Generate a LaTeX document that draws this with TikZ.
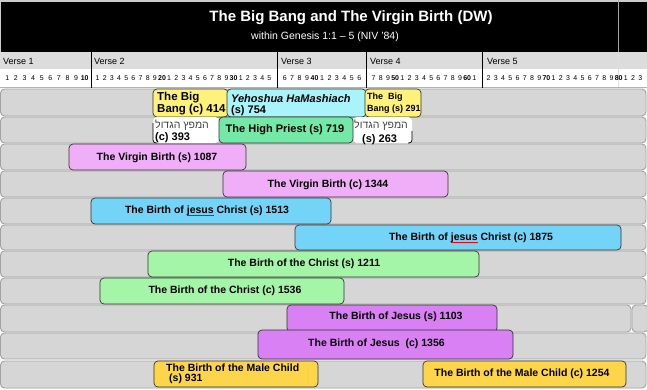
\documentclass[tikz,border=0pt]{standalone}
\usepackage{fontspec}
\setmainfont{Liberation Sans}
\newfontfamily\hebfont[Script=Hebrew]{Liberation Sans}
\TeXXeTstate=1
\definecolor{bargray}{HTML}{D6D6D6}
\definecolor{barline}{HTML}{A2A2A2}
\definecolor{versegray}{HTML}{DCDCDC}
\definecolor{bbyellow}{HTML}{FFF27A}
\definecolor{yehcyan}{HTML}{A8F4FA}
\definecolor{hpgreen}{HTML}{74E8A6}
\definecolor{vbpink}{HTML}{F0AEF8}
\definecolor{jcblue}{HTML}{74D4F8}
\definecolor{chgreen}{HTML}{A5F5A8}
\definecolor{jpurple}{HTML}{D980F5}
\definecolor{mgold}{HTML}{FDD54B}
\definecolor{hebgray}{HTML}{404040}
\newcommand\spell[1]{\setbox0\hbox{#1}\rlap{\color{red}\raisebox{-2.2pt}{\rule{\wd0}{0.7pt}}}\copy0\relax}
\tikzset{
  barbox/.style={draw=barline, fill=bargray, rounded corners=4pt, line width=0.9pt, inner sep=0pt, outer sep=0pt},
  cbox/.style={draw=black!80, rounded corners=4pt, line width=0.7pt, inner sep=0pt, outer sep=0pt},
  lbl/.style={font=\fontsize{10.5}{12}\selectfont\bfseries, inner sep=0pt},
  ubl/.style={font=\fontsize{11.5}{12}\selectfont\bfseries, inner sep=0pt, anchor=base west},
  num/.style={font=\fontsize{7}{8}\selectfont, inner sep=0pt},
  vlab/.style={font=\fontsize{9}{10}\selectfont, inner sep=0pt, anchor=west},
  divider/.style={black, line width=0.8pt}
}
\newcommand\rowbar[5]{\node[barbox, anchor=north west, minimum width={(#3-#2)*1pt}, minimum height={(#5-#4)*1pt}] (#1) at (#2,-#4) {};}
\newcommand\cbx[6]{\node[cbox, fill=#6, anchor=north west, minimum width={(#3-#2)*1pt}, minimum height={(#5-#4)*1pt}] (#1) at (#2,-#4) {};}
\begin{document}
\begin{tikzpicture}[x=1pt,y=1pt]
\useasboundingbox (0,0) rectangle (647,-389);
\fill[white] (0,0) rectangle (647,-389);
% header
\fill[gray!40] (0,0) rectangle (647,-52);
\fill[black] (1,-2) rectangle (647,-52);
\node[white, font=\bfseries\fontsize{15}{18}\selectfont, inner sep=0pt] (title) at (351,-18) {The Big Bang and The Virgin Birth (DW)};
\node[white, font=\fontsize{10.5}{12}\selectfont, inner sep=0pt] (sub) at (325,-37) {within Genesis 1:1 – 5 (NIV '84)};
% verse row
\fill[versegray] (0,-52) rectangle (647,-69);
\fill[white] (0,-69) rectangle (647,-87);
\draw[gray!60, line width=0.8pt] (0,-87.5) -- (647,-87.5);
\draw[gray!70, line width=0.8pt] (618,0) -- (618,-52);
\draw[gray!25, line width=0.8pt] (618,-52) -- (618,-87);
\foreach \xx in {91,277,366,482} \draw[divider] (\xx,-52) -- (\xx,-88);
\node[vlab] (v1) at (3,-61) {Verse 1};
\node[vlab] (v2) at (94,-61) {Verse 2};
\node[vlab] (v3) at (281,-61) {Verse 3};
\node[vlab] (v4) at (370,-61) {Verse 4};
\node[vlab] (v5) at (487,-61) {Verse 5};
% word numbers
\foreach \t [count=\i] in {1,2,3,4,5,6,7,8,9,\textbf{10}}
  \node[num] (na\i) at ({3+(\i-0.5)*86/10},-78) {\t};
\foreach \t [count=\i] in {1,2,3,4,5,6,7,8,9,\textbf{20},1,2,3,4,5,6,7,8,9,\textbf{30},1,2,3,4,5}
  \node[num] (nb\i) at ({94+(\i-0.5)*179/25},-78) {\t};
\foreach \t [count=\i] in {6,7,8,9,\textbf{40},1,2,3,4,5,6}
  \node[num] (nc\i) at ({281+(\i-0.5)*82/11},-78) {\t};
\foreach \t [count=\i] in {7,8,9,\textbf{50},1,2,3,4,5,6,7,8,9,\textbf{60},1}
  \node[num] (nd\i) at ({370+(\i-0.5)*108/15},-78) {\t};
\foreach \t [count=\i] in {2,3,4,5,6,7,8,9,\textbf{70},1,2,3,4,5,6,7,8,9,\textbf{80},1,2,3}
  \node[num] (ne\i) at ({485+(\i-0.5)*159/22},-78) {\t};
% gray bars
\rowbar{r1}{0.5}{646}{89}{116}
\rowbar{r2}{0.5}{646}{117}{143}
\rowbar{r3}{0.5}{646}{144}{170}
\rowbar{r4}{0.5}{646}{171}{197}
\rowbar{r5}{0.5}{646}{198}{224}
\rowbar{r6}{0.5}{646}{225}{250}
\rowbar{r7}{0.5}{646}{251}{277}
\rowbar{r8}{0.5}{646}{278}{304}
\rowbar{r9}{0.5}{631}{305}{332}
\rowbar{r9b}{632}{648}{305}{332}
\rowbar{r10}{0.5}{646}{333}{359}
\rowbar{r11}{0.5}{646}{361}{388}
% row 1
\cbx{bbc}{153}{228}{89}{117}{bbyellow}
\node[ubl] (bbc1) at (157,-100) {The Big};
\node[ubl] (bbc2) at (157,-112.5) {Bang (c) 414};
\cbx{yeh}{227}{366}{89}{117}{yehcyan}
\node[ubl, font=\fontsize{11}{12}\selectfont\bfseries\itshape] (yeh1) at (231,-102) {Yehoshua HaMashiach};
\node[ubl, font=\fontsize{11}{12}\selectfont\bfseries] (yeh2) at (231,-113.5) {(s) 754};
\cbx{bbs}{365}{421}{89}{117}{bbyellow}
\node[ubl, font=\fontsize{9}{10}\selectfont\bfseries] (bbs1) at (367,-99.5) {The~ Big};
\node[ubl, font=\fontsize{9}{10}\selectfont\bfseries] (bbs2) at (367,-111.5) {Bang (s) 291};
% row 2
\node[cbox, draw=none, fill=white, anchor=north west, minimum width=66pt, minimum height=26pt] (hbc) at (153,-117) {};
\draw[line width=0.7pt, rounded corners=3pt] ([yshift=-6pt]hbc.north west) -- (hbc.south west) -- ([xshift=4pt]hbc.south west);
\node[cbox, draw=none, fill=white, anchor=north west, minimum width=59pt, minimum height=26pt] (hbs) at (353,-117) {};
\draw[line width=0.7pt, rounded corners=3pt] ([yshift=-14pt]hbs.north east) -- (hbs.south east) -- ([xshift=-4pt]hbs.south east);
\node[inner sep=0pt, anchor=base west, text=hebgray, font=\fontsize{10.5}{12}\selectfont\hebfont] (hbc1) at (155,-128) {\beginR המפץ הגדול\endR};
\node[ubl, font=\fontsize{11}{12}\selectfont\bfseries] (hbc2) at (155,-140) {(c) 393};
\node[inner sep=0pt, anchor=base west, text=hebgray, font=\fontsize{10.5}{12}\selectfont\hebfont] (hbs1) at (354,-128) {\beginR המפץ הגדול\endR};
\node[ubl, font=\fontsize{11}{12}\selectfont\bfseries] (hbs2) at (362,-142) {(s) 263};
\cbx{hp}{219}{353}{117}{143}{hpgreen}
\node[lbl, font=\fontsize{11}{12}\selectfont\bfseries] (hpt) at (285,-130) {The High Priest (s) 719};
% lower rows
\cbx{vbs}{69}{246}{144}{170}{vbpink}
\node[lbl] (vbst) at (157,-157.5) {The Virgin Birth (s) 1087};
\cbx{vbc}{223}{448}{171}{197}{vbpink}
\node[lbl] (vbct) at (328,-184.5) {The Virgin Birth (c) 1344};
\cbx{jcs}{91}{331}{198}{224}{jcblue}
\node[lbl] (jcst) at (207,-211) {The Birth of \spell{jesus} Christ (s) 1513};
\cbx{jcc}{295}{621}{225}{250}{jcblue}
\node[lbl] (jcct) at (471,-237.5) {The Birth of \spell{jesus} Christ (c) 1875};
\cbx{chs}{148}{479}{251}{277}{chgreen}
\node[lbl] (chst) at (304,-264) {The Birth of the Christ (s) 1211};
\cbx{chc}{100}{344}{278}{304}{chgreen}
\node[lbl] (chct) at (225,-291) {The Birth of the Christ (c) 1536};
\cbx{jes}{287}{497}{305}{332}{jpurple}
\node[lbl] (jest) at (396,-317) {The Birth of Jesus (s) 1103};
\cbx{jec}{258}{513}{330}{359}{jpurple}
\node[lbl] (ject) at (376.5,-344) {The Birth of Jesus~ (c) 1356};
\cbx{mcs}{154}{318}{361}{387}{mgold}
\node[lbl, anchor=west] (mcs1) at (166,-368) {The Birth of the Male Child};
\node[lbl, anchor=west] (mcs2) at (169,-379) {(s) 931};
\cbx{mcc}{423}{626}{361}{387}{mgold}
\node[lbl] (mcct) at (522,-374) {The Birth of the Male Child (c) 1254};
\end{tikzpicture}
\end{document}
